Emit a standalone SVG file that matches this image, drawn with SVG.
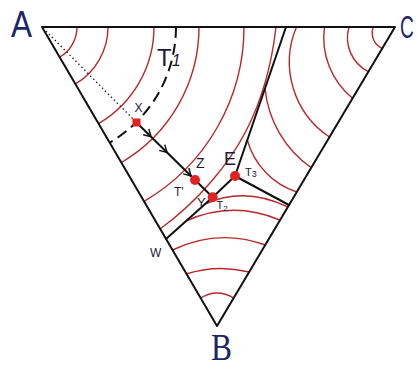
<svg xmlns="http://www.w3.org/2000/svg" width="418" height="368" viewBox="0 0 418 368">
<style>
.iso{fill:none;stroke:#b8282a;stroke-width:1.4}
.blk{fill:none;stroke:#111;stroke-width:2;stroke-linejoin:round;stroke-linecap:round}
.dash{fill:none;stroke:#111;stroke-width:2;stroke-dasharray:11 6}
.dot{fill:none;stroke:#222;stroke-width:1.4;stroke-dasharray:1.4 2.8}
.pt{fill:#e02222}
.lbl{font-family:"Liberation Sans",Arial,sans-serif;fill:#1a1a3a}
.vtx{font-family:"Liberation Sans",Arial,sans-serif;fill:#1c2566}
.vtxs{font-family:"Liberation Serif","Times New Roman",serif;fill:#1c2566}
</style>
<defs>
<path id="chev" d="M-7,-4 L0,0 L-7,4" fill="none" stroke="#111" stroke-width="1.5"/>
</defs>
<rect width="418" height="368" fill="#fff"/>
<g id="isotherms">
<path class="iso" d="M77,27 A35,35 0 0 1 59.68,57.21"/>
<path class="iso" d="M108,27 A66,66 0 0 1 75.34,83.96"/>
<path class="iso" d="M154,27 A112,112 0 0 1 98.57,123.66"/>
<path class="iso" d="M199,27 A157,157 0 0 1 121.3,162.49"/>
<path class="iso" d="M244,27 A202,202 0 0 1 144.03,201.33"/>
<path class="iso" d="M276,27 C272,62 262,100 246,131 C230,162 200,200 160,229"/>
<path class="iso" d="M373.3,27 A17,17 0 0 0 382.2,48.5"/>
<path class="iso" d="M349,27 A38,38 0 0 0 368.4,71.7"/>
<path class="iso" d="M324.5,27 A78,78 0 0 0 352.6,98.3"/>
<path class="iso" d="M296.5,27 A90,90 0 0 0 329.5,137"/>
<path class="iso" d="M265,88 A110,110 0 0 0 311.5,168"/>
<path class="iso" d="M247.3,140 A76,76 0 0 0 296.8,192"/>
<path class="iso" d="M200.6,298 Q217,288 233.7,298"/>
<path class="iso" d="M186,274 Q217,264 249.2,272"/>
<path class="iso" d="M172.5,250 Q218,228 265.5,245"/>
<path class="iso" d="M186,221 Q232,200 280,220"/>
<path class="iso" d="M205,204 Q245,186 288,207"/>
</g>
<g id="connectors">
<path class="blk" d="M42,27 L395,27 L217,326 Z"/>
<path class="blk" d="M286,27 L235,176 L289,205"/>
<path class="blk" d="M235,176 L212.7,197.3 L166,239"/>
<path class="dash" d="M176,27 A134,134 0 0 1 109.68,142.64"/>
<path class="dot" d="M43,28 L136.5,122.5"/>
<path class="blk" d="M136.5,122.5 L212.7,197.3"/>
<use href="#chev" transform="translate(151,136.7) rotate(44.4)"/>
<use href="#chev" transform="translate(167,152.4) rotate(44.4)"/>
<use href="#chev" transform="translate(191,175.9) rotate(44.4)"/>
</g>
<g id="vertex-A"><text class="vtx" x="11" y="37" font-size="37" textLength="21" lengthAdjust="spacingAndGlyphs">A</text></g>
<g id="vertex-C"><text class="vtx" transform="translate(400,38) scale(0.6,1)" font-size="32">C</text></g>
<g id="vertex-B"><text class="vtxs" x="211" y="360" font-size="38" textLength="21" lengthAdjust="spacingAndGlyphs">B</text></g>
<g id="isotherm-T1"><text class="lbl" x="157" y="66" font-size="24">T<tspan font-size="16" font-style="italic">1</tspan></text></g>
<g id="point-X"><rect class="pt" x="132.5" y="118.5" width="8" height="8"/><text class="lbl" x="134.5" y="112" font-size="12">X</text></g>
<g id="point-Z"><circle class="pt" cx="195" cy="180" r="5"/><text class="lbl" x="196" y="168" font-size="14">Z</text></g>
<g id="label-Tp"><text class="lbl" x="174" y="196" font-size="12">T'</text></g>
<g id="point-T2"><circle class="pt" cx="212.7" cy="197.3" r="5"/><text class="lbl" x="197" y="207" font-size="13">Y</text><text class="lbl" x="216.5" y="208.5" font-size="11">T<tspan font-size="8" dy="2">2</tspan></text></g>
<g id="point-T3"><circle class="pt" cx="235" cy="176" r="5"/><text class="lbl" x="245" y="176" font-size="11">T<tspan font-size="9" dy="1">3</tspan></text></g>
<g id="point-E"><text class="lbl" x="224" y="165" font-size="18">E</text></g>
<g id="point-W"><text class="lbl" x="150" y="257" font-size="12">W</text></g>
</svg>
